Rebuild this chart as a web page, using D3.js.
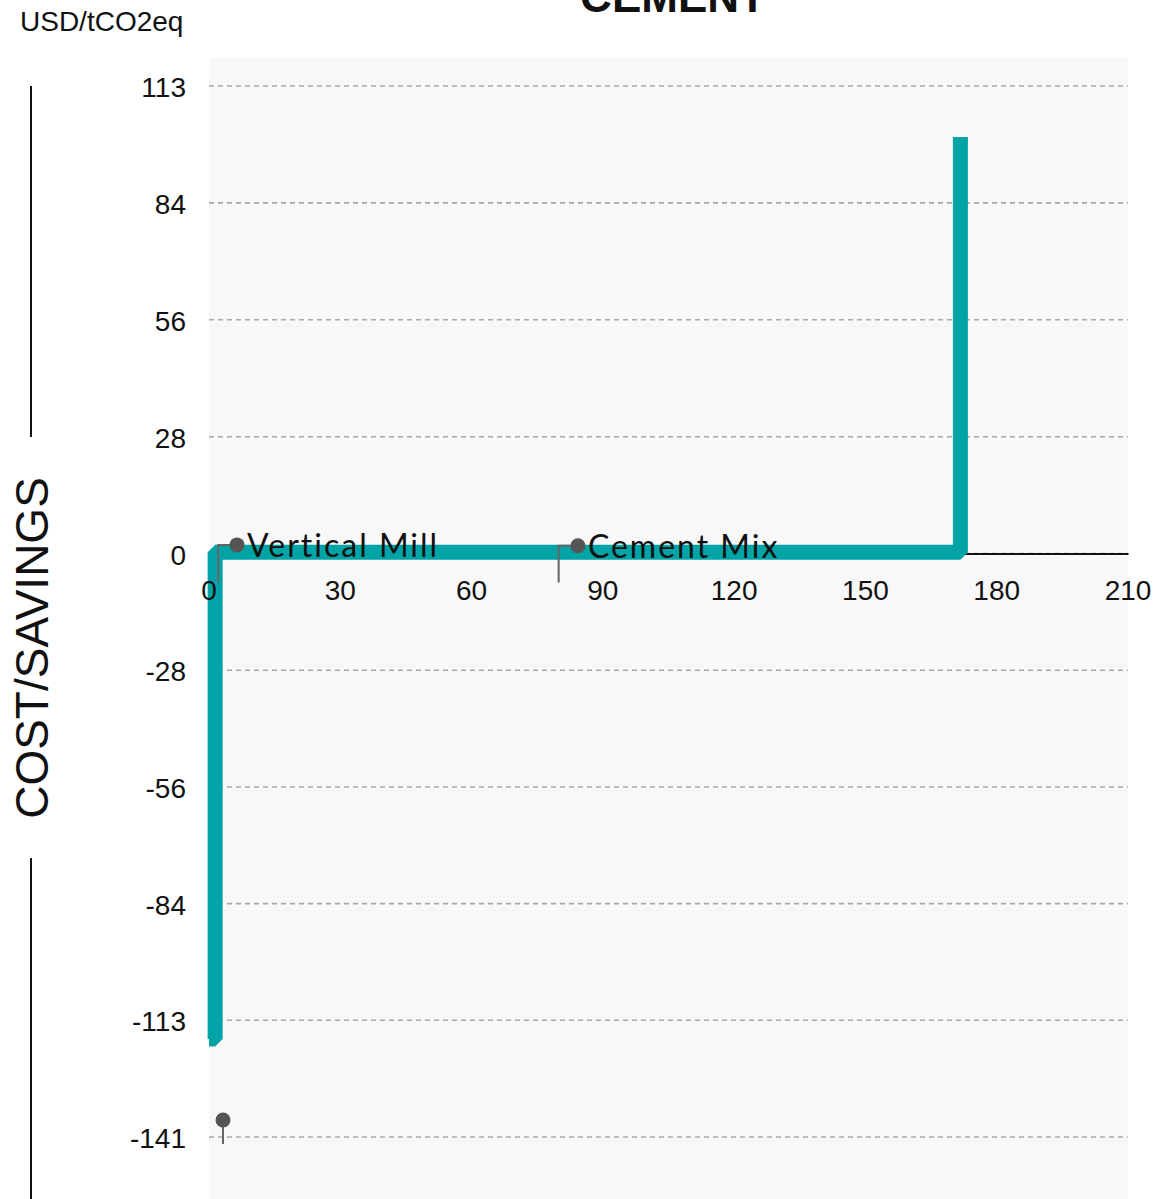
<!DOCTYPE html>
<html>
<head>
<meta charset="utf-8">
<script src="https://cdn.jsdelivr.net/npm/d3@7"></script>
<style>
  html, body { margin: 0; padding: 0; background: #fff; }
  svg { display: block; }
</style>
</head>
<body>
<svg id="chart" width="1159" height="1199"></svg>
<script>
// Cement abatement measures: cumulative step curve
const measures = ["Vertical Mill", "Cement Mix", ""];
const potential = [1.4, 170.3, 0];        // MtCO2eq per measure
const cost = [-117.3, 0.3, 100.7];          // USD/tCO2eq

// Axis ticks
const yTicks = [113, 84.75, 56.5, 28.25, 0, -28.2, -56.4, -84.6, -112.8, -141];
const yTickLabels = ["113", "84", "56", "28", "0", "-28", "-56", "-84", "-113", "-141"];
const xTicks = [0, 30, 60, 90, 120, 150, 180, 210];

// Label anchors (data units): leader x, dot position, leader end
const labelLeaderX = [2.1, 79.9, 3.2];
const labelDotX = [6.4, 84.3, 3.2];
const labelDotY = [2.1, 1.9, -136.9];
const labelEndY = [-7.0, -7.0, -142.7];

const svg = d3.select("#chart");
const plot = { left: 209, right: 1128, top: 86, bottom: 1137 };

const x = d3.scaleLinear().domain([0, 210]).range([plot.left, plot.right]);
const y = d3.scaleLinear().domain([-141, 113]).range([plot.bottom, plot.top]);

// plot background
svg.append("rect")
  .attr("x", plot.left).attr("y", 58)
  .attr("width", plot.right - plot.left).attr("height", 1199 - 58)
  .attr("fill", "#f8f8f8");

// dashed grid
svg.append("g")
  .selectAll("line")
  .data(yTicks)
  .join("line")
  .attr("x1", plot.left).attr("x2", plot.right)
  .attr("y1", d => y(d)).attr("y2", d => y(d))
  .attr("stroke", "#a8a8a8")
  .attr("stroke-width", 1.6)
  .attr("stroke-dasharray", "5,4");

// zero baseline (x axis)
const xAxis = d3.axisBottom(x).tickValues(xTicks).tickSize(0).tickPadding(0);
const gx = svg.append("g").attr("transform", `translate(0,${y(0)})`).call(xAxis);
gx.select(".domain").attr("stroke", "#111").attr("stroke-width", 2);
gx.selectAll(".tick text").remove();

// step curve
let cum = 0;
const points = measures.map((m, i) => {
  const p = { x: cum, y: cost[i] };
  cum += potential[i];
  return p;
});
const step = d3.line().x(d => x(d.x)).y(d => y(d.y)).curve(d3.curveStepAfter);
svg.append("path")
  .datum(points)
  .attr("d", step)
  .attr("fill", "none")
  .attr("stroke", "#00a4a6")
  .attr("stroke-width", 15)
  .attr("stroke-linejoin", "bevel");

// x tick labels
svg.append("g")
  .selectAll("text")
  .data(xTicks)
  .join("text")
  .attr("x", d => x(d))
  .attr("y", y(0) + 46)
  .attr("text-anchor", "middle")
  .attr("font-family", "Liberation Sans, Arial, sans-serif")
  .attr("font-size", 28)
  .attr("fill", "#111")
  .text(d => d);

// y tick labels
svg.append("g")
  .selectAll("text")
  .data(yTicks)
  .join("text")
  .attr("x", 186)
  .attr("y", d => y(d) + 11)
  .attr("text-anchor", "end")
  .attr("font-family", "Liberation Sans, Arial, sans-serif")
  .attr("font-size", 28)
  .attr("fill", "#111")
  .text((d, i) => yTickLabels[i]);

// measure labels with leaders
const ann = svg.append("g");
measures.forEach((name, i) => {
  const lx = x(labelLeaderX[i]);
  const dx = x(labelDotX[i]);
  const dy = y(labelDotY[i]);
  ann.append("path")
    .attr("d", `M${dx},${dy}H${lx}V${y(labelEndY[i])}`)
    .attr("fill", "none")
    .attr("stroke", "#666")
    .attr("stroke-width", 2);
  ann.append("circle")
    .attr("cx", dx).attr("cy", dy).attr("r", 7.5)
    .attr("fill", "#555");
  if (name) {
    ann.append("text")
      .attr("x", dx + 10)
      .attr("y", dy + 12)
      .attr("font-family", "Lato, 'Open Sans', sans-serif")
      .attr("font-size", 32)
      .attr("letter-spacing", 2)
      .attr("fill", "#111")
      .text(name);
  }
});

// titles
svg.append("text")
  .attr("x", 673).attr("y", 12)
  .attr("text-anchor", "middle")
  .attr("font-family", "Liberation Sans, Arial, sans-serif")
  .attr("font-weight", "bold")
  .attr("font-size", 44)
  .attr("fill", "#111")
  .text("CEMENT");

svg.append("text")
  .attr("x", 20).attr("y", 31)
  .attr("font-family", "Liberation Sans, Arial, sans-serif")
  .attr("font-size", 28)
  .attr("fill", "#111")
  .text("USD/tCO2eq");

// vertical side label with rules
svg.append("text")
  .attr("transform", "translate(48,648) rotate(-90)")
  .attr("text-anchor", "middle")
  .attr("font-family", "Liberation Sans, Arial, sans-serif")
  .attr("font-size", 46)
  .attr("fill", "#111")
  .text("COST/SAVINGS");

svg.append("line").attr("x1", 31).attr("x2", 31).attr("y1", 86).attr("y2", 437)
  .attr("stroke", "#111").attr("stroke-width", 2);
svg.append("line").attr("x1", 31).attr("x2", 31).attr("y1", 858).attr("y2", 1199)
  .attr("stroke", "#111").attr("stroke-width", 2);
</script>
</body>
</html>
